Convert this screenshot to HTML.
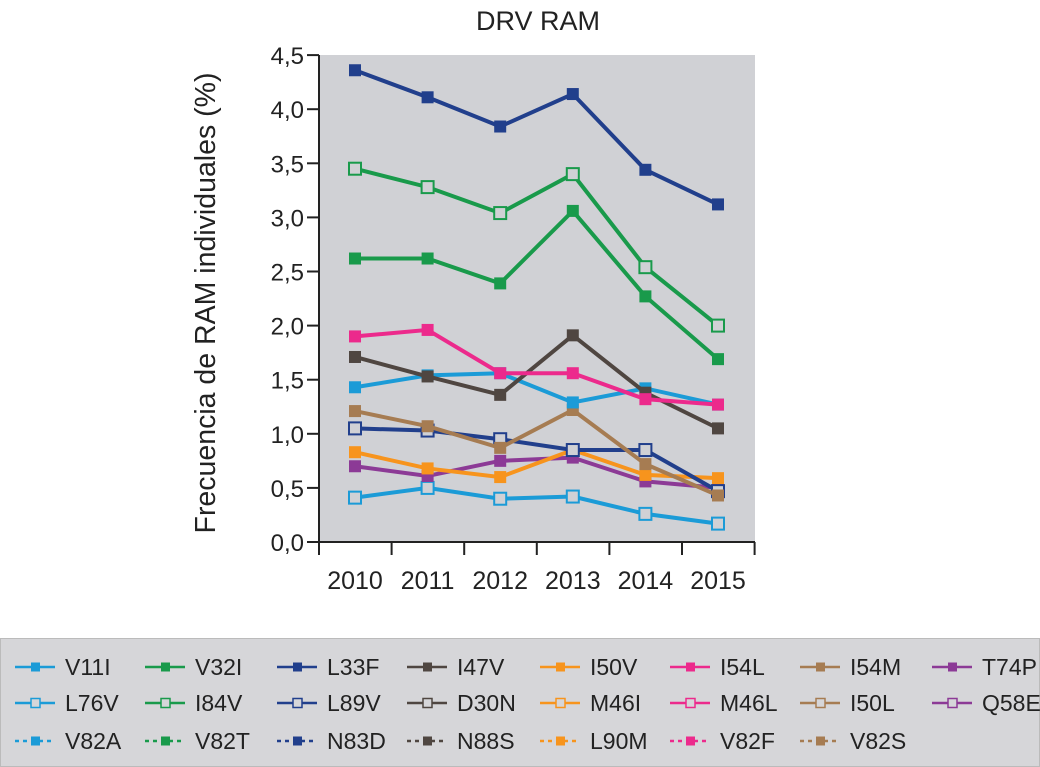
<!DOCTYPE html>
<html><head><meta charset="utf-8"><style>
html,body{margin:0;padding:0;background:#fff;width:1040px;height:767px;overflow:hidden;font-family:"Liberation Sans",sans-serif}
</style></head><body>
<svg width="1040" height="767" xmlns="http://www.w3.org/2000/svg" font-family="Liberation Sans, sans-serif">
<text x="538" y="30" font-size="27px" text-anchor="middle" fill="#222">DRV RAM</text>
<rect x="320" y="55" width="435" height="487" fill="#d0d1d5"/>
<g id="axes"></g>
<g id="series"></g>
<text transform="translate(215,303) rotate(-90)" font-size="28.5px" text-anchor="middle" fill="#222">Frecuencia de RAM individuales (%)</text>
<rect x="0.5" y="638.5" width="1039" height="128" fill="#d6d6d9" stroke="#bbb"/>
<g id="legend"></g>
</svg>
<script>
const categories=["2010","2011","2012","2013","2014","2015"];
const yTicks=["0,0","0,5","1,0","1,5","2,0","2,5","3,0","3,5","4,0","4,5"];
const L33F=[4.36,4.11,3.84,4.14,3.44,3.12];
const I84V=[3.45,3.28,3.04,3.40,2.54,2.00];
const V32I=[2.62,2.62,2.39,3.06,2.27,1.69];
const I54L=[1.90,1.96,1.56,1.56,1.32,1.27];
const I47V=[1.71,1.53,1.36,1.91,1.38,1.05];
const V11I=[1.43,1.54,1.56,1.29,1.42,1.27];
const I54M=[1.21,1.07,0.87,1.22,0.72,0.43];
const L89V=[1.05,1.03,0.95,0.85,0.85,0.47];
const I50V=[0.83,0.68,0.60,0.85,0.62,0.59];
const T74P=[0.70,0.61,0.75,0.78,0.56,0.50];
const L76V=[0.41,0.50,0.40,0.42,0.26,0.17];
const NS="http://www.w3.org/2000/svg";
const x=i=>355+i*72.6;
const y=v=>542-v*108.2;
function mk(t,a,p){const e=document.createElementNS(NS,t);for(const k in a)e.setAttribute(k,a[k]);p.appendChild(e);return e;}
const ax=document.getElementById('axes');
let e=mk('line',{x1:319,y1:55,x2:319,y2:543,stroke:'#222','stroke-width':2},ax);

e=mk('line',{x1:319,y1:542,x2:755,y2:542,stroke:'#222','stroke-width':2},ax);

yTicks.forEach((t,i)=>{const v=i*0.5;
 mk('line',{x1:307,y1:y(v),x2:319,y2:y(v),stroke:'#222','stroke-width':2},ax);
 const tx=mk('text',{x:304,y:y(v)+9,'font-size':'24px','text-anchor':'end',fill:'#222'},ax);tx.textContent=t;
 
 });
for(let i=0;i<=6;i++){mk('line',{x1:319+i*72.6,y1:542,x2:319+i*72.6,y2:555,stroke:'#222','stroke-width':2},ax);}
categories.forEach((c,i)=>{const tx=mk('text',{x:x(i),y:589,'font-size':'25px','text-anchor':'middle',fill:'#222'},ax);tx.textContent=c;
 
 });
const sg=document.getElementById('series');
function series(name,data,col,open){
 const g=mk('g',{},sg);
 
 
 mk('polyline',{points:data.map((v,i)=>x(i)+','+y(v)).join(' '),fill:'none',stroke:col,'stroke-width':4},g);
 data.forEach((v,i)=>{const r=mk('rect',{x:x(i)-6,y:y(v)-6,width:12,height:12,fill:open?'#d0d1d5':col,stroke:col,'stroke-width':open?2:0},g);
  
  });
}
series('L76V',L76V,'#1b9bd7',true);
series('T74P',T74P,'#8c3a96',false);
series('I50V',I50V,'#f7941d',false);
series('L89V',L89V,'#213f8c',true);
series('I54M',I54M,'#a67c52',false);
series('V11I',V11I,'#1b9bd7',false);
series('I47V',I47V,'#4f4641',false);
series('I54L',I54L,'#ec2a8c',false);
series('V32I',V32I,'#199a4b',false);
series('I84V',I84V,'#199a4b',true);
series('L33F',L33F,'#213f8c',false);
const lg=document.getElementById('legend');
const leg=[
[["V11I","#1b9bd7",0],["V32I","#199a4b",0],["L33F","#213f8c",0],["I47V","#4f4641",0],["I50V","#f7941d",0],["I54L","#ec2a8c",0],["I54M","#a67c52",0],["T74P","#8c3a96",0]],
[["L76V","#1b9bd7",1],["I84V","#199a4b",1],["L89V","#213f8c",1],["D30N","#4f4641",1],["M46I","#f7941d",1],["M46L","#ec2a8c",1],["I50L","#a67c52",1],["Q58E","#8c3a96",1]],
[["V82A","#1b9bd7",2],["V82T","#199a4b",2],["N83D","#213f8c",2],["N88S","#4f4641",2],["L90M","#f7941d",2],["V82F","#ec2a8c",2],["V82S","#a67c52",2]]];
const colX=[65,195,327,457,590,720,850,982];
const rowY=[667,703,741];
leg.forEach((row,r)=>row.forEach((it,c)=>{
 const g=mk('g',{},lg);
 
 
 const tx=colX[c],ty=rowY[r];
 mk('line',{x1:tx-50,y1:ty,x2:tx-10,y2:ty,stroke:it[1],'stroke-width':2.5,'stroke-dasharray':it[2]==2?'4,4':'none'},g);
 mk('rect',{x:tx-34,y:ty-4.5,width:9,height:9,fill:it[2]==1?'#d6d6d9':it[1],stroke:it[1],'stroke-width':it[2]==1?1.5:0},g);
 const t=mk('text',{x:tx,y:ty+8,'font-size':'23px',fill:'#222'},g);t.textContent=it[0];
}));
</script>
</body></html>
